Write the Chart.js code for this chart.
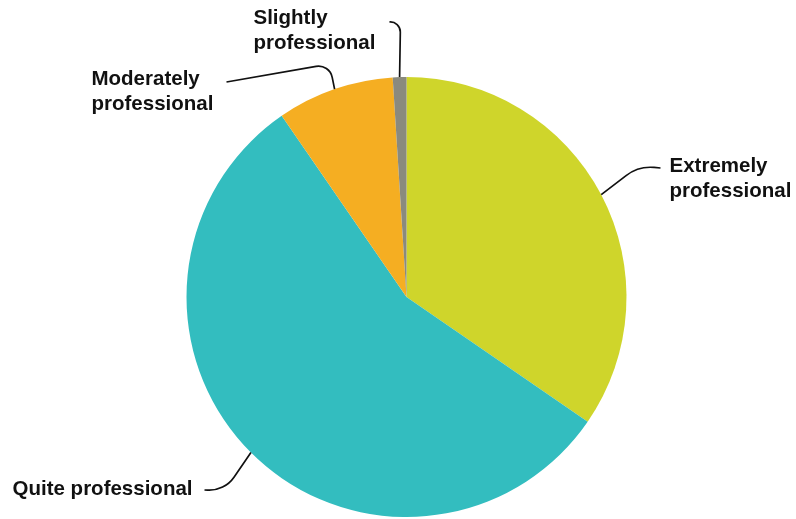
<!DOCTYPE html>
<html>
<head>
<meta charset="utf-8">
<script src="https://cdn.jsdelivr.net/npm/chart.js@4"></script>
<style>
  html, body { margin: 0; padding: 0; background: #fff; }
  #wrap { width: 796px; height: 519px; }
</style>
</head>
<body>
<div id="wrap"><canvas id="pieChart" width="796" height="519"></canvas></div>
<script>
// --- data (percent) ---
const categories = ['Extremely professional', 'Quite professional', 'Moderately professional', 'Slightly professional'];
const shares = [34.6, 55.8, 8.6, 1.0];
const sliceColors = ['#CFD52B', '#33BDBF', '#F5AE22', '#8A8A7E'];

// label text lines and where they sit, relative to the pie centre
// elbow/end = leader line corner and end, text = first line anchor
const labelLines = [['Extremely', 'professional'], ['Quite professional'], ['Moderately', 'professional'], ['Slightly', 'professional']];
const labelLayout = [
    { elbow: [232, -131], end: [254, -129], text: [263, -131], align: 'left', r: 40 },
    { elbow: [-182, 194], end: [-202, 193], text: [-214, 192], align: 'right', r: 30 },
    { elbow: [-77, -233], end: [-180, -215], text: [-315, -218], align: 'left', r: 14 },
    { elbow: [-6, -276], end: [-17, -275], text: [-153, -279], align: 'left', r: 10 }
];

// draws the outside labels with rounded leader lines
const leaderLabels = {
    id: 'leaderLabels',
    afterDraw(chart) {
        const ctx = chart.ctx;
        const arcs = chart.getDatasetMeta(0).data;
        ctx.save();
        ctx.strokeStyle = '#111';
        ctx.lineWidth = 1.7;
        ctx.fillStyle = '#111';
        ctx.font = 'bold 20.5px "Liberation Sans", Arial, sans-serif';
        ctx.textBaseline = 'middle';
        arcs.forEach((arc, i) => {
            const p = arc.getProps(['x', 'y', 'startAngle', 'endAngle', 'outerRadius'], true);
            const mid = (p.startAngle + p.endAngle) / 2;
            const ax = p.x + Math.cos(mid) * p.outerRadius;
            const ay = p.y + Math.sin(mid) * p.outerRadius;
            const lay = labelLayout[i];
            ctx.beginPath();
            ctx.moveTo(ax, ay);
            ctx.arcTo(p.x + lay.elbow[0], p.y + lay.elbow[1], p.x + lay.end[0], p.y + lay.end[1], lay.r);
            ctx.lineTo(p.x + lay.end[0], p.y + lay.end[1]);
            ctx.stroke();
            ctx.textAlign = lay.align;
            labelLines[i].forEach((line, k) => {
                ctx.fillText(line, p.x + lay.text[0], p.y + lay.text[1] + k * 25);
            });
        });
        ctx.restore();
    }
};

document.addEventListener('DOMContentLoaded', () => {
    const ctx = document.getElementById('pieChart').getContext('2d');
    new Chart(ctx, {
        type: 'pie',
        data: {
            labels: categories,
            datasets: [{
                data: shares,
                backgroundColor: sliceColors,
                borderWidth: 0
            }]
        },
        options: {
            responsive: false,
            animation: false,
            layout: { padding: { top: 77, bottom: 2, left: 17, right: 0 } },
            plugins: {
                legend: { display: false },
                tooltip: { enabled: false }
            }
        },
        plugins: [leaderLabels]
    });
});
</script>
</body>
</html>
